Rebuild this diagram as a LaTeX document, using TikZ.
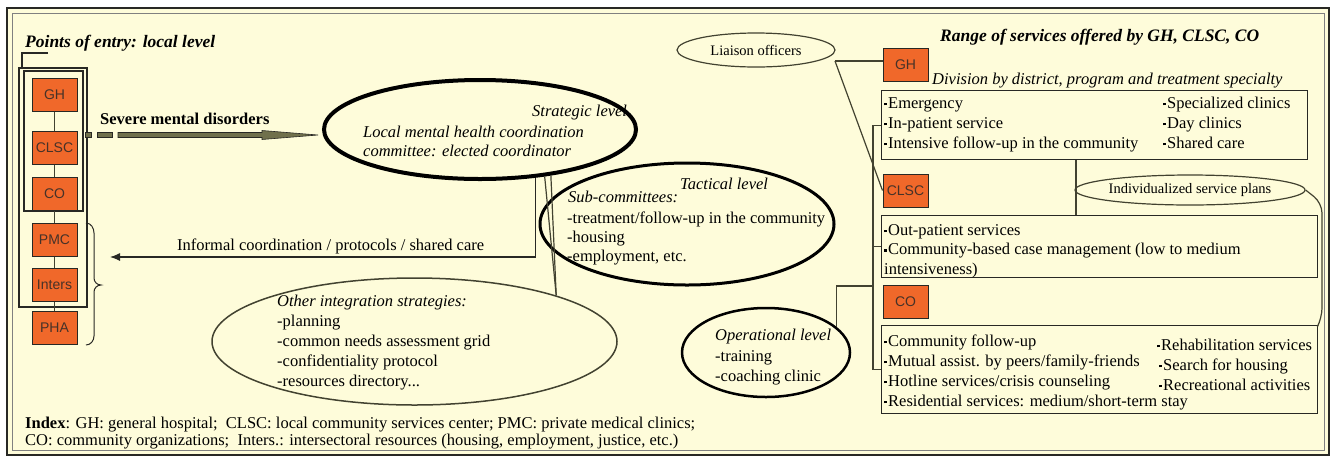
\documentclass[tikz,border=0pt]{standalone}
\usepackage{fontspec}
\setmainfont{Liberation Serif}
\newfontfamily\boxfont{Liberation Sans}
\usetikzlibrary{shapes.geometric,arrows.meta}
\definecolor{cream}{RGB}{254,252,218}
\definecolor{orbox}{RGB}{240,104,42}
\definecolor{olivearr}{RGB}{112,112,76}
\definecolor{dk}{RGB}{40,40,36}
\definecolor{ln}{RGB}{66,66,48}
\definecolor{boxtxt}{RGB}{70,50,40}
\newcommand\bul{\rule[2.6pt]{2.8pt}{2.8pt}\hspace{1.2pt}}
\begin{document}
\begin{tikzpicture}[x=1pt,y=-1pt,
  frame/.style={draw=dk,line width=1.3pt},
  orbx/.style={draw=dk,line width=1pt,fill=orbox,minimum width=45pt,minimum height=33pt,inner sep=0pt,font=\boxfont\fontsize{14}{14}\selectfont,text=boxtxt},
  conn/.style={draw=ln,line width=1.2pt},
  svc/.style={draw=dk,line width=1.3pt,rectangle,anchor=north west,inner sep=0pt},
  ell/.style={ellipse,inner sep=0pt,draw=black},
  body/.style={inner sep=0pt,anchor=base west,align=left,font=\fontsize{16.5}{20}\selectfont},
  ital/.style={inner sep=0pt,anchor=base west,align=left,font=\fontsize{16.5}{19}\selectfont\itshape},
  head/.style={inner sep=0pt,anchor=base west,font=\fontsize{17.5}{20}\selectfont\bfseries\itshape},
  small/.style={font=\fontsize{14.5}{16}\selectfont},
]
\useasboundingbox (0,0) rectangle (1335,459);
\fill[white] (0,0) rectangle (1335,459);
\fill[cream] (7,8) rectangle (1329,455);
\draw[dk, line width=2pt] (7,8) rectangle (1329,455);
\draw[gray, line width=0.8pt] (12,13) rectangle (1324,450);

% left column
\draw[frame] (48,53) -- (22,53) -- (22,68);
\draw[frame] (19,68) rectangle (87,307);
\draw[frame] (24,71) rectangle (83,211);
\draw[frame, line width=1pt] (86,223) to[out=0,in=90] (94,233) -- (94,278) to[out=-90,in=180] (101,285) to[out=180,in=90] (94,292) -- (94,336) to[out=-90,in=0] (86,345);
\node[orbx] (lgh) at (54.5,94.5) {GH};
\node[orbx] (lclsc) at (54.5,148) {CLSC};
\node[orbx] (lco) at (54.5,194) {CO};
\node[orbx] (lpmc) at (54.5,240) {PMC};
\node[orbx] (linters) at (54.5,285) {Inters};
\node[orbx] (lpha) at (54.5,328) {PHA};
\draw[conn] (lgh) -- (lclsc);
\draw[conn] (lclsc) -- (lco);
\draw[conn] (lco) -- (lpmc);
\draw[conn] (lpmc) -- (linters);
\draw[conn] (linters) -- (lpha);

\node[head] (poe) at (25,47) {Points of entry: local level};
\node[body, font=\fontsize{16.5}{20}\selectfont\bfseries] (smd) at (100,124) {Severe mental disorders};

% ellipses
\node[ell, line width=4pt, minimum width=312pt, minimum height=99pt] (strat) at (480,129.5) {};
\node[ell, line width=3pt, minimum width=294pt, minimum height=122pt] (tact) at (687,224) {};
\node[ell, draw=ln, line width=1.5pt, minimum width=405pt, minimum height=127pt] (other) at (414.5,341.5) {};
\node[ell, line width=2.5pt, minimum width=168pt, minimum height=89pt] (oper) at (766,352.5) {};
\node[ell, draw=ln, line width=1.2pt, minimum width=158pt, minimum height=34pt, small] (liaison) at (756,50) {Liaison officers};
\node[ell, draw=ln, line width=1.2pt, minimum width=230pt, minimum height=30pt, small] (indiv) at (1190,190) {Individualized service plans};

% severe arrow
\filldraw[fill=olivearr, draw=dk, line width=0.6pt] (85,132.5) rectangle (91,137.5);
\filldraw[fill=olivearr, draw=dk, line width=0.6pt] (97,132.5) rectangle (112,137.5);
\filldraw[fill=olivearr, draw=dk, line width=0.6pt] (118,132.5) -- (262,132.5) -- (262,130.5) -- (318,135) -- (262,139.5) -- (262,137.5) -- (118,137.5) -- cycle;

% informal
\coordinate (infend) at (110,257);
\draw[conn, draw=dk, -{Latex[length=10pt,width=8pt]}] (strat.-41) |- (infend);
\node[body] (inf) at (177,250) {Informal coordination / protocols / shared care};

% callout
\draw[conn] (strat.-36) -- (other.18);
\draw[conn] (strat.-33) -- (other.18);

% strategic texts (multi-line nodes: base = last line)
\node[ital] (stratlvl) at (532,116) {Strategic level};
\node[ital] (stratt) at (363,156) {Local mental health coordination\\committee: elected coordinator};
\node[ital] (tactlvl) at (680,189) {Tactical level};
\node[ital] (subc) at (568,202) {Sub-committees:};
\node[body, font=\fontsize{16.5}{19}\selectfont] (subl) at (567,261) {-treatment/follow-up in the community\\-housing\\-employment, etc.};
\node[ital] (othert) at (277,306) {Other integration strategies:};
\node[body] (otherl) at (277,386) {-planning\\-common needs assessment grid\\-confidentiality protocol\\-resources directory...};
\node[ital] (operlvl) at (715,340) {Operational level};
\node[body] (operl) at (715,381) {-training\\-coaching clinic};

% right side
\node[orbx] (rgh) at (905.5,65) {GH};
\node[orbx] (rclsc) at (905.5,190.5) {CLSC};
\node[orbx] (rco) at (905.5,302) {CO};
\node[svc, minimum width=426pt, minimum height=69pt] (ghs) at (881,90) {};
\node[svc, minimum width=436pt, minimum height=62pt] (clscs) at (881,215) {};
\node[svc, minimum width=436pt, minimum height=88pt] (cos) at (881,325) {};

\coordinate (lj) at (835,61);
\draw[conn] (lj) -- (lj -| rgh.west);
\draw[conn] (lj) -- (rclsc.west);
\coordinate (bx) at (873,0);
\draw[conn] (ghs.west) -- (ghs.west -| bx) -- (cos.west -| bx) -- (cos.west);
\draw[conn] (clscs.west -| bx) -- (clscs.west);
\coordinate (opj) at (873,286);
\draw[conn] (oper.20) |- (opj);
\coordinate (vx) at (1076,0);
\draw[conn] (ghs.south -| vx) -- (clscs.north -| vx);
\draw[conn, rounded corners=10pt] (indiv.east) -- (1322,203) -- (1322,318) -- (cos.north east);

\node[head] (range) at (940,41) {Range of services offered by GH, CLSC, CO};
\node[ital] (div) at (932,84) {Division by district, program and treatment specialty};
\node[body] (ghl) at (884,148) {\bul Emergency\\\bul In-patient service\\\bul Intensive follow-up in the community};
\node[body] (ghr) at (1163,148) {\bul Specialized clinics\\\bul Day clinics\\\bul Shared care};
\node[body, font=\fontsize{16.5}{19.5}\selectfont] (clscl) at (884,274) {\bul Out-patient services\\\bul Community-based case management (low to medium\\intensiveness)};
\node[body] (col) at (884,406) {\bul Community follow-up\\\bul Mutual assist. by peers/family-friends\\\bul Hotline services/crisis counseling\\\bul Residential services: medium/short-term stay};
\node[body] (cor) at (1157,390) {\bul Rehabilitation services\\\hspace{2pt}\bul Search for housing\\\hspace{2pt}\bul Recreational activities};

\node[body, font=\fontsize{16.5}{17}\selectfont] (idx) at (25,445) {\textbf{Index}: GH: general hospital;\ \ CLSC: local community services center; PMC: private medical clinics;\\CO: community organizations;\ \ Inters.: intersectoral resources (housing, employment, justice, etc.)};
\end{tikzpicture}
\end{document}
